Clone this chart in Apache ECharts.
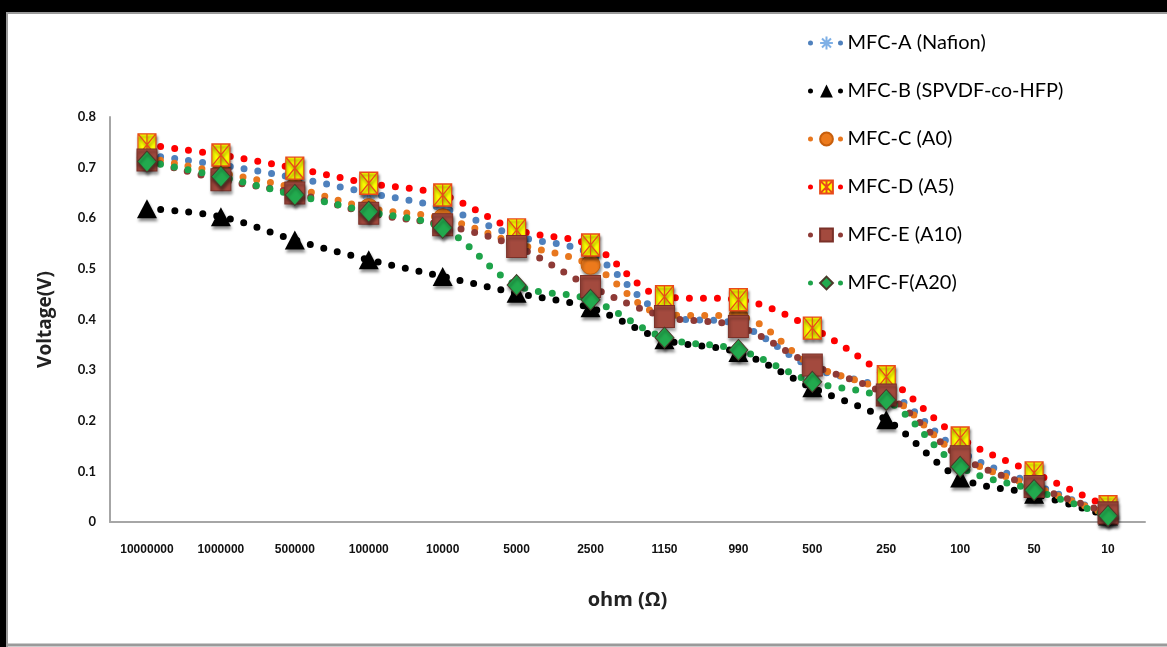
<!DOCTYPE html>
<html>
<head>
<meta charset="utf-8">
<script src="https://cdn.jsdelivr.net/npm/echarts@6/dist/echarts.min.js"></script>
<style>html,body{margin:0;padding:0;background:#fff}#c{width:1167px;height:647px}</style>
</head>
<body>
<div id="c"></div>
<script>
const categories = ['10000000','1000000','500000','100000','10000','5000','2500','1150','990','500','250','100','50','10'];
const seriesNames = ['MFC-A (Nafion)','MFC-B (SPVDF-co-HFP)','MFC-C (A0)','MFC-D (A5)','MFC-E (A10)','MFC-F(A20)'];
const mfcA = [0.725,0.705,0.680,0.650,0.620,0.565,0.530,0.410,0.390,0.305,0.260,0.140,0.075,0.015];
const mfcB = [0.619,0.603,0.557,0.518,0.485,0.452,0.423,0.360,0.335,0.265,0.202,0.087,0.055,0.012];
const mfcC = [0.720,0.690,0.660,0.620,0.600,0.550,0.508,0.410,0.406,0.310,0.255,0.130,0.070,0.015];
const mfcD = [0.745,0.725,0.699,0.669,0.646,0.577,0.547,0.445,0.439,0.383,0.287,0.166,0.097,0.030];
const mfcE = [0.715,0.676,0.650,0.610,0.587,0.544,0.465,0.406,0.386,0.310,0.251,0.129,0.070,0.018];
const mfcF = [0.712,0.682,0.646,0.613,0.581,0.468,0.439,0.364,0.340,0.277,0.241,0.109,0.063,0.012];
const yTicks = {min:0, max:0.8, interval:0.1};

const chart = echarts.init(document.getElementById('c'), null, {renderer:'canvas'});
const shadow = {shadowBlur:3, shadowOffsetX:1, shadowOffsetY:3, shadowColor:'rgba(0,0,0,0.45)'};
function mk(name, data, lineColor, symbol, size, item){
  return {
    name, type:'line', data, smooth:0.35, symbol, symbolSize:size,
    lineStyle:{color:lineColor, width:7, type:[0,14], cap:'round'},
    itemStyle:Object.assign({}, shadow, item),
    emphasis:{disabled:true}
  };
}
const series = [
  mk(seriesNames[0], mfcA, '#4f81bd', 'path://M0,5 L10,5 M5,0 L5,10 M1.5,1.5 L8.5,8.5 M8.5,1.5 L1.5,8.5', 16, {color:'#9cc3ec', borderColor:'#7fb0e6', borderWidth:2}),
  mk(seriesNames[1], mfcB, '#000000', 'triangle', [20,19], {color:'#000000'}),
  mk(seriesNames[2], mfcC, '#e8771e', 'circle', 19, {color:'#ec7a1c', borderColor:'#c75f0d', borderWidth:1}),
  mk(seriesNames[3], mfcD, '#ff0000', 'path://M0,0 L10,0 L10,12 L0,12 Z M0,0 L10,12 M10,0 L0,12 M5,0 L5,12', [18,22], {color:'#ffff00', borderColor:'#e84a1a', borderWidth:1.3}),
  mk(seriesNames[4], mfcE, '#8e3a36', 'rect', [20,22], {color:'#a34a3e', borderColor:'#7a3028', borderWidth:1}),
  mk(seriesNames[5], mfcF, '#1ea34a', 'diamond', [19,21], {color:'#22aa4e', borderColor:'#4a3a2a', borderWidth:1})
];

chart.setOption({
  animation:false,
  backgroundColor:'#ffffff',
  textStyle:{fontFamily:'Lato, "Liberation Sans", sans-serif'},
  grid:{left:110, right:22, top:117, bottom:125},
  legend:{
    orient:'vertical', left:803, top:28, itemWidth:32, itemHeight:16, itemGap:28,
    lineStyle:{width:5, type:[0,30], cap:'round'},
    textStyle:{fontSize:20, color:'#000', fontFamily:'Lato, "Open Sans", sans-serif'},
    data:seriesNames
  },
  xAxis:{
    type:'category', data:categories, boundaryGap:true,
    name:'ohm (Ω)', nameLocation:'middle', nameGap:68,
    nameTextStyle:{fontSize:20, fontWeight:'bold', color:'#222', fontFamily:'"Open Sans", Lato, sans-serif'},
    axisLine:{lineStyle:{color:'#a6a6a6', width:2}},
    axisTick:{show:false},
    axisLabel:{fontSize:12, fontWeight:'bold', color:'#111', margin:22, interval:0, fontFamily:'"Liberation Sans Narrow", "Liberation Sans", sans-serif'}
  },
  yAxis:{
    type:'value', min:yTicks.min, max:yTicks.max, interval:yTicks.interval,
    name:'Voltage(V)', nameLocation:'middle', nameGap:55, nameRotate:90,
    nameTextStyle:{fontSize:19, fontWeight:'bold', color:'#222', fontFamily:'"Open Sans", Lato, sans-serif'},
    axisLine:{show:true, lineStyle:{color:'#a6a6a6', width:2}},
    axisTick:{show:false},
    splitLine:{show:false},
    axisLabel:{fontSize:13, fontWeight:'bold', color:'#111', margin:14}
  },
  series,
  graphic:[
    {type:'rect', shape:{x:0, y:0, width:1167, height:12}, style:{fill:'#000'}, silent:true},
    {type:'rect', shape:{x:0, y:0, width:6, height:647}, style:{fill:'#000'}, silent:true},
    {type:'line', shape:{x1:6, y1:13, x2:1167, y2:13}, style:{stroke:'#9a9a9a', lineWidth:2}, silent:true},
    {type:'line', shape:{x1:7, y1:12, x2:7, y2:647}, style:{stroke:'#9a9a9a', lineWidth:2}, silent:true},
    {type:'line', shape:{x1:6, y1:645, x2:1167, y2:645}, style:{stroke:'#9a9a9a', lineWidth:3}, silent:true}
  ]
});
</script>
</body>
</html>
